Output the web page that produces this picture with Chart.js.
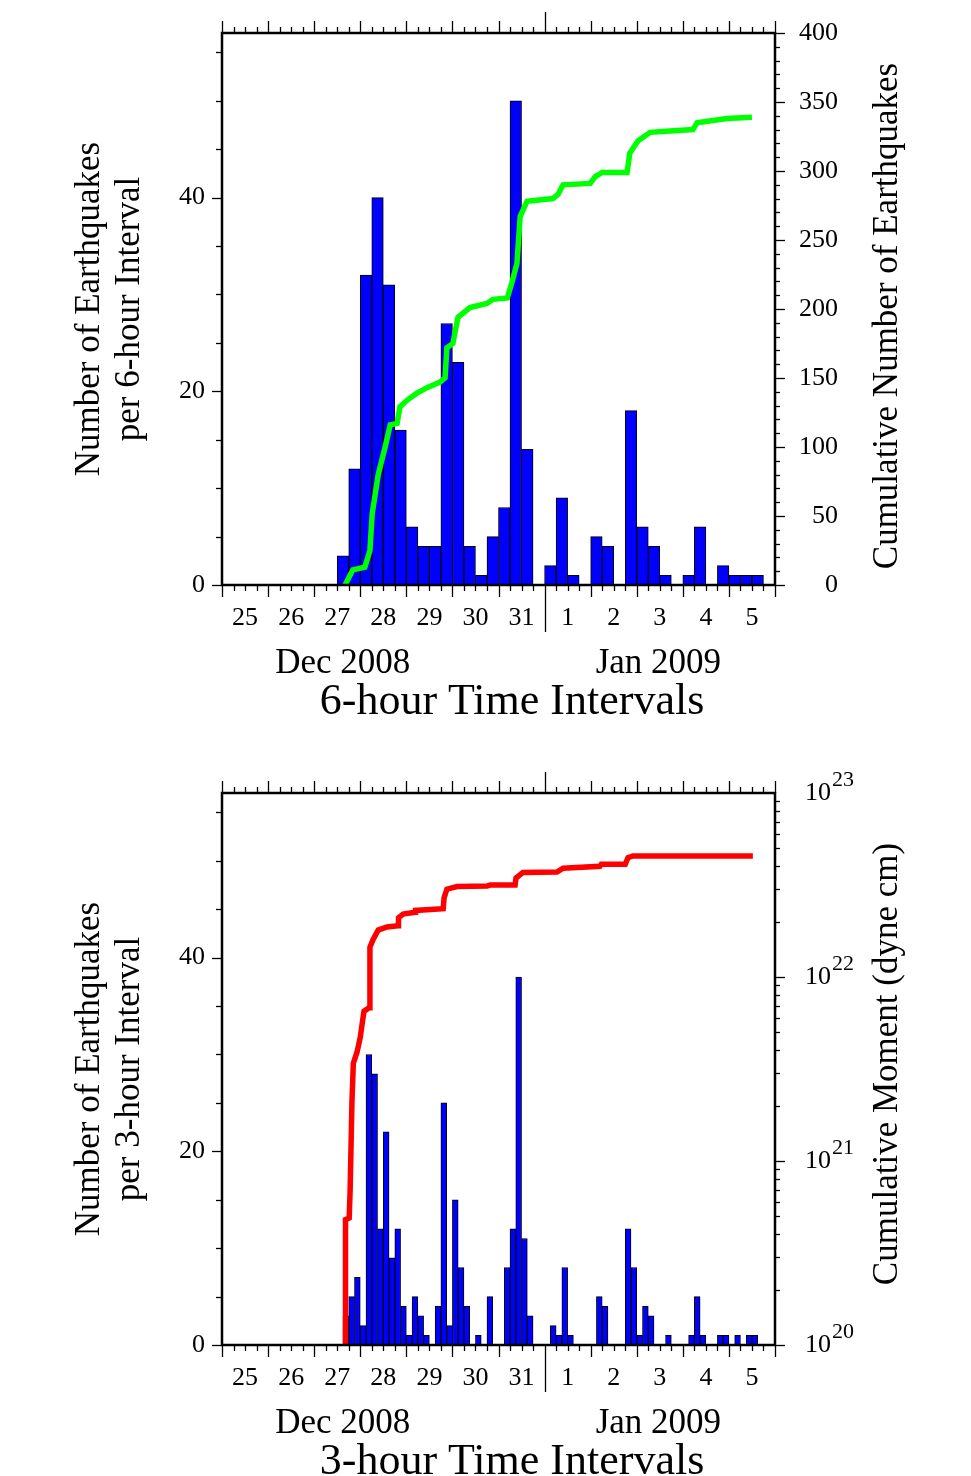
<!DOCTYPE html>
<html>
<head>
<meta charset="utf-8">
<title>Earthquakes per interval, Dec 2008 - Jan 2009</title>
<script src="https://cdn.jsdelivr.net/npm/chart.js@4.4.1/dist/chart.umd.min.js"></script>
<style>
  html, body { margin: 0; padding: 0; background: #fff; }
  body { width: 971px; height: 1476px; overflow: hidden; position: relative; }
  canvas { position: absolute; left: 0; }
  #six-hour-chart { top: 0; }
  #three-hour-chart { top: 760px; }
</style>
</head>
<body>
<canvas id="six-hour-chart" width="971" height="760"></canvas>
<canvas id="three-hour-chart" width="971" height="760"></canvas>
<script>
// time axis runs in days from Dec 25 2008 00:00 to Jan 6 2009 00:00
const dayLabels = ['25', '26', '27', '28', '29', '30', '31', '1', '2', '3', '4', '5'];
const monthLabels = ['Dec 2008', 'Jan 2009'];
const monthLabelDays = [2.62, 9.47];
const countTicks = [0, 20, 40];
const momentExponents = [20, 21, 22, 23];

// earthquakes per 6-hour interval (48 bins)
const counts6h = [
  0, 0, 0, 0, 0, 0, 0, 0, 0, 0,
  3, 12, 32, 40, 31, 16, 6, 4, 4, 27,
  23, 4, 1, 5, 8, 50, 14, 0, 2, 9,
  1, 0, 5, 4, 0, 18, 6, 4, 1, 0,
  1, 6, 0, 2, 1, 1, 1, 0
];

// earthquakes per 3-hour interval (96 bins)
const counts3h = [
  0, 0, 0, 0, 0, 0, 0, 0, 0, 0,
  0, 0, 0, 0, 0, 0, 0, 0, 0, 0,
  0, 3, 5, 7, 2, 30, 28, 12, 22, 9,
  12, 4, 1, 5, 3, 1, 0, 4, 25, 2,
  15, 8, 4, 0, 1, 0, 5, 0, 0, 8,
  12, 38, 11, 3, 0, 0, 0, 2, 1, 8,
  1, 0, 0, 0, 0, 5, 4, 0, 0, 0,
  12, 8, 1, 4, 3, 0, 0, 1, 0, 0,
  0, 1, 5, 1, 0, 0, 1, 1, 0, 1,
  0, 1, 1, 0, 0, 0
];

// cumulative number of earthquakes (green curve)
const cumCountDays = [2.67, 2.84, 3.10, 3.21, 3.26, 3.39, 3.54, 3.65, 3.80, 3.86,
  4.02, 4.23, 4.45, 4.73, 4.84, 4.88, 5.01, 5.12, 5.38, 5.75,
  5.88, 6.19, 6.29, 6.40, 6.47, 6.62, 7.18, 7.29, 7.40, 7.99,
  8.10, 8.25, 8.79, 8.85, 9.03, 9.29, 9.72, 10.22, 10.31, 10.53,
  10.96, 11.50];
const cumCount = [0, 11, 13, 25, 52, 80, 100, 116, 117, 129,
  134, 139, 143, 147, 150, 172, 175, 194, 201, 204,
  207, 208, 219, 233, 267, 278, 280, 283, 290, 291,
  296, 299, 299, 313, 322, 328, 329, 330, 335, 336,
  338, 339];

// cumulative seismic moment in dyne cm (red curve)
const cumMomentDays = [2.68, 2.68, 2.76, 2.78, 2.82, 2.85, 2.93, 3.00, 3.08, 3.19,
  3.21, 3.28, 3.39, 3.58, 3.82, 3.83, 3.93, 4.19, 4.20, 4.80,
  4.82, 4.88, 5.10, 5.75, 5.82, 6.36, 6.38, 6.53, 7.27, 7.40,
  8.20, 8.23, 8.75, 8.81, 8.92, 11.52];
const cumMoment = [1e20, 4.8e20, 4.9e20, 6.9e20, 2.1e21, 3.4e21, 3.9e21, 4.7e21, 6.5e21, 6.8e21,
  1.45e22, 1.6e22, 1.8e22, 1.87e22, 1.9e22, 2.1e22, 2.2e22, 2.25e22, 2.3e22, 2.35e22,
  2.7e22, 3.0e22, 3.1e22, 3.12e22, 3.16e22, 3.16e22, 3.45e22, 3.7e22, 3.72e22, 3.9e22,
  4.0e22, 4.1e22, 4.1e22, 4.45e22, 4.55e22, 4.55e22];

const SERIF = "'Liberation Serif', 'Times New Roman', serif";
Chart.defaults.font.family = SERIF;
Chart.defaults.color = '#000';

// keep the plot box fixed: drop the label overhang padding the scales ask for
const noOverhang = s => { s.paddingTop = 0; s.paddingBottom = 0; s.paddingLeft = 0; s.paddingRight = 0; };

// frame, tick marks, log labels and axis titles
const frameTicks = {
  id: 'frameTicks',
  afterDraw(chart, args, opts) {
    const { ctx, chartArea: a } = chart;
    const x = chart.scales.x, y = chart.scales.y, y2 = chart.scales.y2;
    const seg = (x0, y0, x1, y1) => {
      ctx.beginPath(); ctx.moveTo(x0, y0); ctx.lineTo(x1, y1); ctx.stroke();
    };
    ctx.save();
    ctx.strokeStyle = '#000';
    ctx.lineWidth = 1.3;

    // time ticks every 6 hours, longer at each day, longest at Jan 1
    for (let k = 0; k <= 48; k++) {
      const px = Math.round(x.getPixelForValue(k / 4)) + 0.5;
      let down = k % 4 === 0 ? 12 : 6;
      let up = down;
      if (k === 28) { down = 47; up = 21; }
      seg(px, a.bottom, px, a.bottom + down);
      seg(px, a.top, px, a.top - up);
    }

    // left count ticks
    for (let v = 0; v <= y.max; v += 5) {
      const py = Math.round(y.getPixelForValue(v)) + 0.5;
      seg(a.left, py, a.left - (v % 20 === 0 ? 10 : 6), py);
    }

    // right ticks
    ctx.fillStyle = '#000';
    if (y2.type === 'logarithmic') {
      momentExponents.forEach(e => {
        for (let m = 1; m <= 9; m++) {
          const v = m * Math.pow(10, e);
          if (v > y2.max) break;
          const py = Math.round(y2.getPixelForValue(v)) + 0.5;
          seg(a.right, py, a.right + (m === 1 ? 10 : 5), py);
        }
      });
      ctx.textBaseline = 'middle';
      ctx.textAlign = 'left';
      momentExponents.forEach(e => {
        const py = y2.getPixelForValue(Math.pow(10, e));
        ctx.font = '26px ' + SERIF;
        ctx.fillText('10', a.right + 30, py);
        const w = ctx.measureText('10').width;
        ctx.font = '22px ' + SERIF;
        ctx.fillText(String(e), a.right + 31 + w, py - 13);
      });
    } else {
      for (let v = 0; v <= y2.max; v += 10) {
        const py = Math.round(y2.getPixelForValue(v)) + 0.5;
        seg(a.right, py, a.right + (v % 50 === 0 ? 10 : 5), py);
      }
    }

    // plot frame
    ctx.lineWidth = 2.5;
    ctx.strokeRect(a.left, a.top, a.right - a.left, a.bottom - a.top);

    // time axis title
    ctx.font = '44px ' + SERIF;
    ctx.textAlign = 'center';
    ctx.textBaseline = 'middle';
    ctx.fillText(opts.xTitle, 512, a.bottom + 117);

    // right axis title, reading bottom to top
    ctx.font = '35px ' + SERIF;
    ctx.translate(a.right + 113, (a.top + a.bottom) / 2 + (opts.titleShift || 0));
    ctx.rotate(-Math.PI / 2);
    ctx.fillText(opts.rightTitle, 0, 0);
    ctx.restore();
  }
};

function histogramChart(canvasId, cfg) {
  const binDays = 12 / cfg.counts.length;
  const bars = cfg.counts.map((c, i) => ({ x: (i + 0.5) * binDays, y: c }));
  const curve = cfg.curveDays.map((d, i) => ({ x: d, y: cfg.curveValues[i] }));

  return new Chart(document.getElementById(canvasId), {
    type: 'bar',
    data: {
      datasets: [
        {
          type: 'line',
          data: curve,
          xAxisID: 'x',
          yAxisID: 'y2',
          borderColor: cfg.curveColor,
          borderWidth: 5.5,
          pointRadius: 0,
          tension: 0,
          fill: false,
          order: 0
        },
        {
          type: 'bar',
          data: bars,
          xAxisID: 'x',
          yAxisID: 'y',
          backgroundColor: '#0000ff',
          borderColor: '#000',
          borderWidth: 1,
          barPercentage: 1,
          categoryPercentage: 1,
          order: 1
        }
      ]
    },
    options: {
      responsive: false,
      animation: false,
      devicePixelRatio: 1,
      layout: { padding: { top: 33, right: 133, bottom: 0, left: 0 } },
      plugins: {
        legend: { display: false },
        tooltip: { enabled: false },
        frameTicks: { rightTitle: cfg.rightTitle, xTitle: cfg.xTitle, titleShift: cfg.titleShift }
      },
      scales: {
        x: {
          type: 'linear',
          position: 'bottom',
          min: 0,
          max: 12,
          offset: false,
          weight: 0,
          afterBuildTicks: s => { s.ticks = dayLabels.map((_, i) => ({ value: i + 0.5 })); },
          afterFit: s => { noOverhang(s); s.height = 55; },
          ticks: {
            callback: (v, i) => dayLabels[i],
            font: { size: 26 },
            padding: 18,
            maxRotation: 0,
            autoSkip: false
          },
          grid: { display: false, drawTicks: false },
          border: { display: false }
        },
        month: {
          type: 'linear',
          position: 'bottom',
          min: 0,
          max: 12,
          offset: false,
          weight: 1,
          afterBuildTicks: s => { s.ticks = monthLabelDays.map(d => ({ value: d })); },
          afterFit: s => { noOverhang(s); s.height = 120; },
          ticks: {
            callback: (v, i) => monthLabels[i],
            font: { size: 35 },
            padding: 3,
            maxRotation: 0,
            autoSkip: false
          },
          grid: { display: false, drawTicks: false },
          border: { display: false }
        },
        y: {
          type: 'linear',
          position: 'left',
          min: 0,
          max: 57,
          afterBuildTicks: s => { s.ticks = countTicks.map(v => ({ value: v })); },
          afterFit: s => { noOverhang(s); s.width = 222; },
          ticks: { font: { size: 26 }, padding: 17 },
          grid: { display: false, drawTicks: false },
          border: { display: false },
          title: {
            display: true,
            text: cfg.yTitle,
            font: { size: 35, lineHeight: 1.143 },
            padding: { top: 70, bottom: 0 }
          }
        },
        y2: cfg.rightScale
      }
    },
    plugins: [frameTicks]
  });
}

// 6-hour intervals with cumulative count
histogramChart('six-hour-chart', {
  counts: counts6h,
  curveDays: cumCountDays,
  curveValues: cumCount,
  curveColor: '#00ff00',
  xTitle: '6-hour Time Intervals',
  yTitle: ['Number of Earthquakes', 'per 6-hour Interval'],
  rightTitle: 'Cumulative Number of Earthquakes',
  titleShift: 7,
  rightScale: {
    type: 'linear',
    position: 'right',
    min: 0,
    max: 400,
    afterFit: s => { noOverhang(s); s.width = 63; },
    ticks: { stepSize: 50, font: { size: 26 }, crossAlign: 'far', padding: 24, autoSkip: false },
    grid: { display: false, drawTicks: false },
    border: { display: false }
  }
});

// 3-hour intervals with cumulative moment
histogramChart('three-hour-chart', {
  counts: counts3h,
  curveDays: cumMomentDays,
  curveValues: cumMoment,
  curveColor: '#ff0000',
  xTitle: '3-hour Time Intervals',
  yTitle: ['Number of Earthquakes', 'per 3-hour Interval'],
  rightTitle: 'Cumulative Moment (dyne cm)',
  titleShift: -5,
  rightScale: {
    type: 'logarithmic',
    position: 'right',
    min: 1e20,
    max: 1e23,
    afterFit: s => { noOverhang(s); s.width = 63; },
    ticks: { display: false },
    grid: { display: false, drawTicks: false },
    border: { display: false }
  }
});
</script>
</body>
</html>
